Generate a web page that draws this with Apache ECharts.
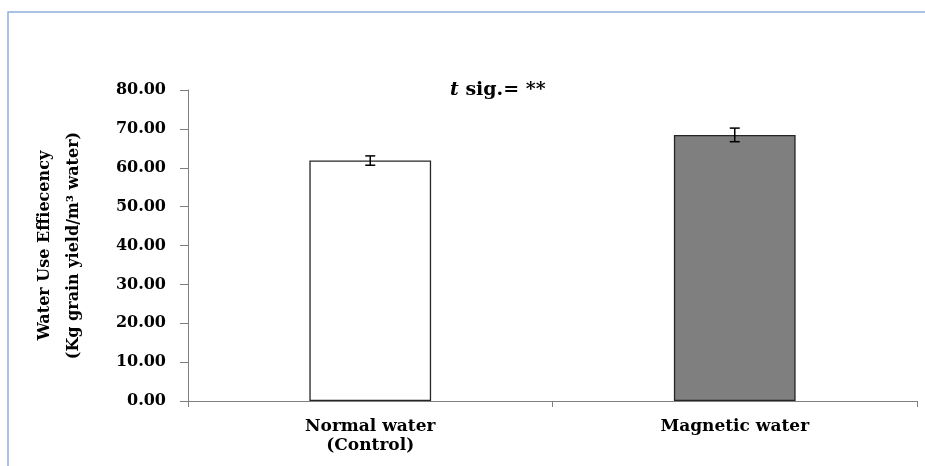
<!DOCTYPE html>
<html>
<head>
<meta charset="utf-8">
<script src="https://cdn.jsdelivr.net/npm/echarts@6/dist/echarts.min.js"></script>
<style>
  html, body { margin: 0; padding: 0; background: #fff; }
  #chart { width: 925px; height: 466px; }
</style>
</head>
<body>
<div id="chart"></div>
<script>
const categories = ["Normal water\n(Control)", "Magnetic water"];
const wueValues = [61.85, 68.45];
const wueErrors = [1.2, 1.75];
const barColors = ["#ffffff", "#7f7f7f"];
const yTicks = { min: 0, max: 80, interval: 10 };

const serif = "DejaVu Serif";
const chart = echarts.init(document.getElementById("chart"));

chart.setOption({
  animation: false,
  backgroundColor: "#ffffff",
  title: {
    text: "{t|t}{s| sig.= **}",
    left: 445,
    top: 76,
    textStyle: {
      rich: {
        t: { fontFamily: serif, fontSize: 19, fontWeight: "bold", fontStyle: "italic", color: "#000" },
        s: { fontFamily: serif, fontSize: 19, fontWeight: "bold", color: "#000" }
      }
    }
  },
  graphic: [
    {
      type: "rect",
      shape: { x: 8, y: 12, width: 940, height: 480 },
      style: { fill: "none", stroke: "#8fb0dc", lineWidth: 1.5 },
      silent: true
    }
  ],
  grid: { left: 188, right: 8, top: 90, bottom: 65, outerBoundsMode: "none", containLabel: false },
  xAxis: {
    type: "category",
    data: categories,
    axisLine: { lineStyle: { color: "#7f7f7f", width: 1 } },
    axisTick: { show: true, length: 6, lineStyle: { color: "#7f7f7f" } },
    axisLabel: {
      fontFamily: serif,
      fontSize: 17,
      fontWeight: "bold",
      color: "#000",
      margin: 16,
      lineHeight: 19
    }
  },
  yAxis: {
    type: "value",
    min: yTicks.min,
    max: yTicks.max,
    interval: yTicks.interval,
    name: "Water Use Effiecency\n(Kg grain yield/m\u00b3 water)",
    nameLocation: "middle",
    nameRotate: 90,
    nameGap: 100,
    nameTextStyle: {
      fontFamily: serif,
      fontSize: 16,
      fontWeight: "bold",
      color: "#000",
      lineHeight: 29
    },
    axisLine: { show: true, lineStyle: { color: "#7f7f7f", width: 1 } },
    axisTick: { show: true, length: 8, lineStyle: { color: "#7f7f7f" } },
    splitLine: { show: false },
    axisLabel: {
      fontFamily: serif,
      fontSize: 16,
      fontWeight: "bold",
      color: "#000",
      margin: 22,
      formatter: v => v.toFixed(2)
    }
  },
  series: [
    {
      type: "bar",
      barWidth: "33.4%",
      data: wueValues.map((v, i) => ({
        value: v,
        itemStyle: { color: barColors[i], borderColor: "#262626", borderWidth: 1.3 }
      }))
    },
    {
      type: "custom",
      z: 5,
      data: wueValues.map((v, i) => [i, v, wueErrors[i]]),
      renderItem: (params, api) => {
        const x = api.value(0);
        const hi = api.coord([x, api.value(1) + api.value(2)]);
        const lo = api.coord([x, api.value(1) - api.value(2)]);
        const cap = 5;
        const style = { stroke: "#000", lineWidth: 1.5 };
        return {
          type: "group",
          children: [
            { type: "line", shape: { x1: hi[0], y1: hi[1], x2: lo[0], y2: lo[1] }, style },
            { type: "line", shape: { x1: hi[0] - cap, y1: hi[1], x2: hi[0] + cap, y2: hi[1] }, style },
            { type: "line", shape: { x1: lo[0] - cap, y1: lo[1], x2: lo[0] + cap, y2: lo[1] }, style }
          ]
        };
      }
    }
  ]
});
</script>
</body>
</html>
